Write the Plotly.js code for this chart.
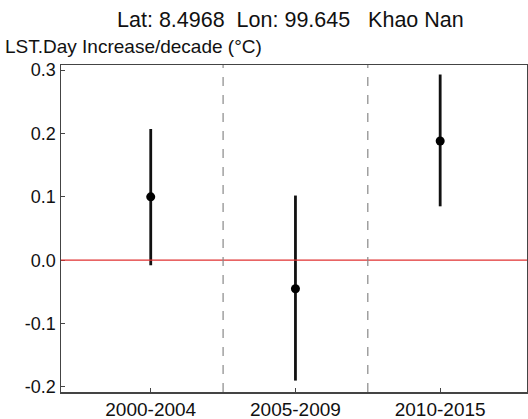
<!DOCTYPE html>
<html><head><meta charset="utf-8">
<script src="https://cdn.plot.ly/plotly-3.0.1.min.js"></script>
<style>body{margin:0;background:#fff}#c{width:528px;height:419px}</style>
</head><body><div id="c"></div>
<script>
const categories = ["2000-2004", "2005-2009", "2010-2015"];
const estimate = [0.100, -0.045, 0.188];
const upper = [0.207, 0.102, 0.293];
const lower = [-0.008, -0.190, 0.085];
const yTicks = [-0.2, -0.1, 0.0, 0.1, 0.2, 0.3];
const yTickLabels = ["-0.2", "-0.1", "0.0", "0.1", "0.2", "0.3"];

const xIdx = categories.map((c, i) => i);
const trace = {
  x: xIdx, y: estimate, type: "scatter", mode: "markers",
  marker: {color: "#000", size: 9},
  error_y: {type: "data", symmetric: false,
    array: upper.map((u, i) => u - estimate[i]),
    arrayminus: lower.map((l, i) => estimate[i] - l),
    color: "#111", thickness: 2.8, width: 0},
  hoverinfo: "none"
};
const shapes = [
  {type: "line", xref: "paper", x0: 0, x1: 1, yref: "y", y0: 0, y1: 0, line: {color: "#e03030", width: 1.3}},
  {type: "line", xref: "x", x0: 0.5, x1: 0.5, yref: "paper", y0: 0, y1: 1, line: {color: "#888", width: 1.2, dash: "dash"}},
  {type: "line", xref: "x", x0: 1.5, x1: 1.5, yref: "paper", y0: 0, y1: 1, line: {color: "#888", width: 1.2, dash: "dash"}}
];
const layout = {
  width: 528, height: 419,
  margin: {l: 61, r: 1, t: 65, b: 27},
  paper_bgcolor: "#fff", plot_bgcolor: "#fff",
  font: {family: "Liberation Sans, Arial, sans-serif", color: "#111"},
  showlegend: false,
  title: {text: "Lat: 8.4968  Lon: 99.645   Khao Nan", x: 0.55, xanchor: "center", y: 0.953, yanchor: "middle", font: {size: 21.5}},
  xaxis: {range: [-0.62, 2.6], tickvals: xIdx, ticktext: categories, ticks: "inside", ticklen: 4,
    showgrid: false, zeroline: false, showline: true, linecolor: "#444", linewidth: 1.5, mirror: true,
    tickfont: {size: 19}, fixedrange: true},
  yaxis: {range: [-0.208, 0.308], tickvals: yTicks, ticktext: yTickLabels, ticks: "inside", ticklen: 4,
    showgrid: false, zeroline: false, showline: true, linecolor: "#444", linewidth: 1.5, mirror: true,
    tickfont: {size: 18}, fixedrange: true},
  annotations: [{text: "LST.Day Increase/decade (°C)", xref: "paper", yref: "paper", x: -0.125, y: 1.018,
    xanchor: "left", yanchor: "bottom", showarrow: false, font: {size: 19}}],
  shapes: shapes
};
Plotly.newPlot("c", [trace], layout, {displayModeBar: false, staticPlot: true});
</script></body></html>
